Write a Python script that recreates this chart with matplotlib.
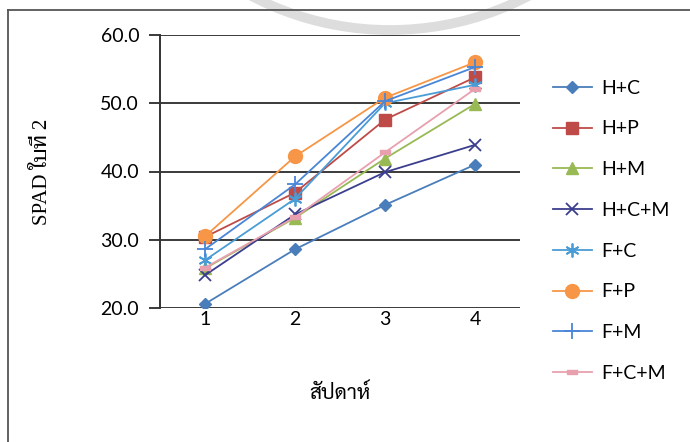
import matplotlib
matplotlib.use("Agg")
import matplotlib.pyplot as plt
from matplotlib.patches import Arc
from matplotlib.lines import Line2D
from matplotlib.path import Path
import warnings
warnings.filterwarnings("ignore")

### Données
weeks = [1, 2, 3, 4]
labels = ['H+C', 'H+P', 'H+M', 'H+C+M', 'F+C', 'F+P', 'F+M', 'F+C+M']
h_c = [20.6, 28.6, 35.1, 41.0]
h_p = [30.4, 36.9, 47.6, 53.8]
h_m = [25.8, 33.2, 41.9, 49.9]
h_c_m = [24.8, 33.7, 39.9, 43.9]
f_c = [27.0, 36.0, 50.0, 52.7]
f_p = [30.5, 42.2, 50.8, 56.0]
f_m = [28.6, 38.1, 50.3, 55.3]
f_c_m = [25.9, 33.3, 42.8, 52.1]
yticks = [20, 30, 40, 50, 60]

series = [h_c, h_p, h_m, h_c_m, f_c, f_p, f_m, f_c_m]

### polices (le thaï passe par une police de repli)
fam_sans = ['Lato', 'Sarabun', 'Noto Sans Thai', 'IBM Plex Sans Thai Looped', 'DejaVu Sans']
fam_serif = ['Liberation Serif', 'Taviraj', 'Trirong', 'Sarabun', 'DejaVu Serif']

dash = Path([(-1, -0.45), (1, -0.45), (1, 0.45), (-1, 0.45), (-1, -0.45)])
styles = [
    dict(color='#4A7EBB', marker='D', ms=6.5, mfc='#4A7EBB'),
    dict(color='#BE4B48', marker='s', ms=8.5, mfc='#BE4B48'),
    dict(color='#98B954', marker='^', ms=9, mfc='#98B954'),
    dict(color='#3B3E8E', marker='x', ms=9, mew=1.3),
    dict(color='#4A9CD6', marker=(6, 2, 0), ms=10, mew=1.3),
    dict(color='#F79646', marker='o', ms=10, mfc='#F79646'),
    dict(color='#4A86D8', marker='+', ms=11, mew=1.3),
    dict(color='#E8A0AE', marker=dash, ms=7, mfc='#E8A0AE'),
]

fig = plt.figure(figsize=(6.9, 4.42), dpi=100)
ax = fig.add_axes([160 / 690, 1 - 308 / 442, 360 / 690, 273 / 442])

for y, lab, st in zip(series, labels, styles):
    ax.plot(weeks, y, lw=1.3, label=lab, **st)

ax.set_xlim(0.5, 4.5)
ax.set_ylim(20, 60)
ax.set_yticks(yticks)
ax.set_yticklabels(['%.1f' % v for v in yticks], family=fam_sans, fontsize=14)
ax.set_xticks(weeks)
ax.set_xticklabels([str(w) for w in weeks], family=fam_sans, fontsize=14)
ax.yaxis.grid(True, color='#3a3a3a', lw=1.4)
ax.set_axisbelow(True)
for s in ['top', 'right', 'bottom']:
    ax.spines[s].set_visible(False)
ax.spines['left'].set_color('#333333')
ax.spines['left'].set_linewidth(1.4)
ax.tick_params(axis='y', length=8, width=1.4, color='#3a3a3a', pad=7)
ax.tick_params(axis='x', length=0, pad=2)

ax.set_ylabel('SPAD ใบที่ 2', family=fam_serif, fontsize=15)
ax.yaxis.set_label_coords(-108 / 360, 0.5)
ax.set_xlabel('สัปดาห์', family=fam_sans, fontsize=15, labelpad=40)

leg = fig.legend(loc='upper left', bbox_to_anchor=(545 / 690, 1 - 72 / 442), frameon=False,
                 prop=dict(family=fam_sans, size=14), handlelength=2.0, labelspacing=1.22,
                 handletextpad=0.5, borderaxespad=0)

# cadre du graphique + filigrane du scan
fig.add_artist(Line2D([8 / 690, 1], [1 - 10 / 442] * 2, color='#555555', lw=1.3))
fig.add_artist(Line2D([8 / 690] * 2, [0, 1 - 10 / 442], color='#555555', lw=1.3))
fig.add_artist(Arc((390 / 690, 1 + 230 / 442), 560 / 690, 520 / 442, theta1=180, theta2=360,
                   color='#dddddd', lw=7, zorder=0))

fig.savefig('out.png', dpi=100)
